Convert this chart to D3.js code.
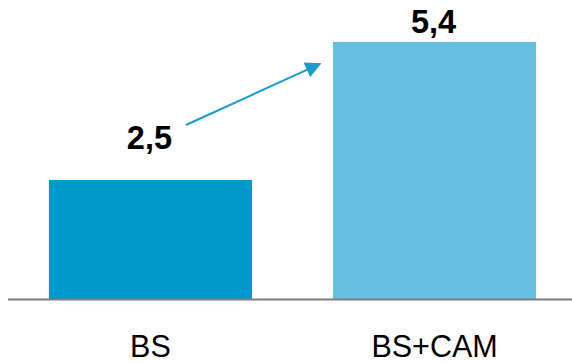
<!DOCTYPE html>
<html>
<head>
<meta charset="utf-8">
<script src="https://cdn.jsdelivr.net/npm/d3@7"></script>
<style>
  html, body { margin: 0; padding: 0; background: #fff; }
  svg { display: block; }
</style>
</head>
<body>
<script>
// Two-bar comparison: BS alone versus BS combined with CAM
const categories = ["BS", "BS+CAM"];
const values = [2.5, 5.4];
const valueLabels = ["2,5", "5,4"];
const barColors = ["#0099cc", "#66bfdf"];

const W = 572, H = 363;
const svg = d3.select("body").append("svg").attr("width", W).attr("height", H);

const x = d3.scaleBand()
  .domain(categories)
  .range([8, 577])
  .paddingInner(0.285)
  .paddingOuter(0.144);

const y = d3.scaleLinear().domain([0, 6.28]).range([299, 0]);

// bars
svg.selectAll("rect.bar")
  .data(values)
  .join("rect")
  .attr("class", "bar")
  .attr("x", (d, i) => x(categories[i]))
  .attr("y", d => y(d))
  .attr("width", x.bandwidth())
  .attr("height", d => y(0) - y(d))
  .attr("fill", (d, i) => barColors[i]);

// baseline
svg.append("line")
  .attr("x1", 8).attr("x2", W)
  .attr("y1", y(0) + 0.5).attr("y2", y(0) + 0.5)
  .attr("stroke", "#7f7f7f")
  .attr("stroke-width", 2);

// value labels
const labelGap = [31, 9];
svg.selectAll("text.val")
  .data(values)
  .join("text")
  .attr("class", "val")
  .attr("x", (d, i) => x(categories[i]) + x.bandwidth() / 2 - 1)
  .attr("y", (d, i) => y(d) - labelGap[i])
  .attr("text-anchor", "middle")
  .attr("font-family", "Liberation Sans, Arial, sans-serif")
  .attr("font-weight", "bold")
  .attr("font-size", 32.5)
  .attr("fill", "#000")
  .text((d, i) => valueLabels[i]);

// category labels
svg.selectAll("text.cat")
  .data(categories)
  .join("text")
  .attr("class", "cat")
  .attr("x", d => x(d) + x.bandwidth() / 2)
  .attr("y", 356.5)
  .attr("text-anchor", "middle")
  .attr("font-family", "Liberation Sans, Arial, sans-serif")
  .attr("font-size", 30.5)
  .attr("fill", "#000")
  .text(d => d);

// growth arrow from the first value towards the second bar
const defs = svg.append("defs");
defs.append("marker")
  .attr("id", "head")
  .attr("viewBox", "0 0 10 10")
  .attr("refX", 9).attr("refY", 5)
  .attr("markerWidth", 9).attr("markerHeight", 8)
  .attr("markerUnits", "strokeWidth")
  .attr("orient", "auto")
  .append("path")
  .attr("d", "M0,0 L10,5 L0,10 Z")
  .attr("fill", "#1a9ccc");

const x0 = x(categories[0]) + 137, y0 = y(values[0]) - 55;
const x1 = x(categories[1]) - 13, y1 = y(values[1]) + 22;
svg.append("line")
  .attr("x1", x0).attr("y1", y0)
  .attr("x2", x1).attr("y2", y1)
  .attr("stroke", "#1a9ccc")
  .attr("stroke-width", 2)
  .attr("marker-end", "url(#head)");
</script>
</body>
</html>
